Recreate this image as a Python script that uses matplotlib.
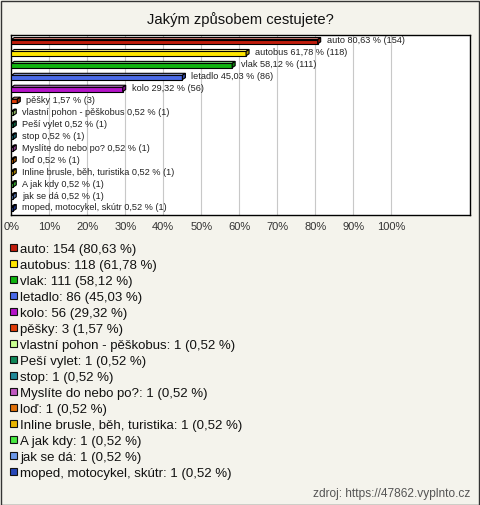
import matplotlib
matplotlib.use("Agg")
import matplotlib.pyplot as plt
from matplotlib.patches import Rectangle, Polygon
from matplotlib.colors import to_rgb
import numpy as np

title = "Jakým způsobem cestujete?"
categories = ["auto", "autobus", "vlak", "letadlo", "kolo", "pěšky",
              "vlastní pohon - pěškobus", "Peší vylet", "stop",
              "Myslíte do nebo po?", "loď", "Inline brusle, běh, turistika",
              "A jak kdy", "jak se dá", "moped, motocykel, skútr"]
counts = [154, 118, 111, 86, 56, 3, 1, 1, 1, 1, 1, 1, 1, 1, 1]
percents = [80.63, 61.78, 58.12, 45.03, 29.32, 1.57, 0.52, 0.52, 0.52,
            0.52, 0.52, 0.52, 0.52, 0.52, 0.52]
legend_labels = ["auto", "autobus", "vlak", "letadlo", "kolo", "pěšky",
                 "vlastní pohon - pěškobus", "Peší vylet", "stop",
                 "Myslíte do nebo po?", "loď", "Inline brusle, běh, turistika",
                 "A jak kdy", "jak se dá", "moped, motocykel, skútr"]
colors = ["#c01c0c", "#ffe600", "#10b410", "#4a6ae8", "#b414c8", "#e03c08",
          "#c8ff90", "#108858", "#208898", "#c058c0", "#e07008", "#e8b400",
          "#48e840", "#6c98e8", "#2848b8"]
xticks = [0, 10, 20, 30, 40, 50, 60, 70, 80, 90, 100]
source = "zdroj: https://47862.vyplnto.cz"

def fmt(v):
    return f"{v:.2f}".replace(".", ",")

W, H = 480, 505
fig = plt.figure(figsize=(W / 100, H / 100), dpi=100)
fig.patch.set_facecolor("#f4f3ec")
plt.rcParams['font.family'] = ['Liberation Sans', 'DejaVu Sans']

# outer frame
fig.add_artist(Rectangle((0.5 / W, 0.5 / H), 1 - 1.5 / W, 1 - 1.5 / H,
                         transform=fig.transFigure, fill=False,
                         edgecolor="#333333", lw=1))

fig.text(0.5, 1 - 20 / H, title, ha="center", va="center", fontsize=10.6,
         color="#111111")

left, right, top, bottom = 11.3, 470, 35, 215
ax = fig.add_axes([left / W, 1 - bottom / H, (right - left) / W, (bottom - top) / H])
ax.set_facecolor("white")
xmax = (right - left) / 380 * 100
ax.set_xlim(0, xmax)
n = len(categories)
ax.set_ylim(14.59, -0.5)
for t in xticks:
    if t > 0:
        ax.axvline(t, color="#c8c8c8", lw=0.8, zorder=0)
for s in ax.spines.values():
    s.set_color("#000000")
    s.set_linewidth(1)
ax.set_yticks([])
ax.set_xticks(xticks)
ax.set_xticklabels([f"{t}%" for t in xticks], fontsize=8, color="#333333")
ax.tick_params(axis="x", length=0, pad=5)

y = np.arange(n)
dx = 3 / 380 * 100      # 3D depth in x (3 px)
dy = 2 / 11.93          # 3D depth in y (2 px)
ftop, fbot = -0.12, 0.24
for i in range(n):
    c = np.array(to_rgb(colors[i]))
    light = c + (1 - c) * 0.45
    dark = c * 0.7
    p = percents[i]
    yc = y[i]
    front = Polygon([(0, yc + ftop), (p, yc + ftop), (p, yc + fbot), (0, yc + fbot)],
                    closed=True, facecolor=colors[i], edgecolor="black", lw=0.8, zorder=3)
    topf = Polygon([(0, yc + ftop), (p, yc + ftop), (p + dx, yc + ftop - dy),
                    (dx, yc + ftop - dy)],
                   closed=True, facecolor=light, edgecolor="black", lw=0.8, zorder=3)
    side = Polygon([(p, yc + ftop), (p + dx, yc + ftop - dy), (p + dx, yc + fbot - dy),
                    (p, yc + fbot)],
                   closed=True, facecolor=dark, edgecolor="black", lw=0.8, zorder=3)
    for patch in (front, topf, side):
        ax.add_patch(patch)
    ax.annotate(f"{categories[i]} {fmt(p)} % ({counts[i]})",
                xy=(p, yc), xytext=(9, 0), textcoords="offset pixels",
                ha="left", va="center", fontsize=6.6, color="#222222", zorder=5)

# legend
ly0, ldy = 249, 16
for i in range(n):
    yy = ly0 + i * ldy
    fig.add_artist(Rectangle((10 / W, 1 - (yy + 2) / H), 7 / W, 7 / H,
                             transform=fig.transFigure, facecolor=colors[i],
                             edgecolor="#111111", lw=0.8))
    fig.text(20 / W, 1 - (yy + 4.5) / H,
             f"{legend_labels[i]}: {counts[i]} ({fmt(percents[i])} %)",
             ha="left", va="baseline", fontsize=9.5, color="#111111")

fig.text(470 / W, 1 - 497 / H, source, ha="right", va="baseline", fontsize=8.6,
         color="#555555")

fig.savefig("out.png", dpi=100, facecolor=fig.get_facecolor())
